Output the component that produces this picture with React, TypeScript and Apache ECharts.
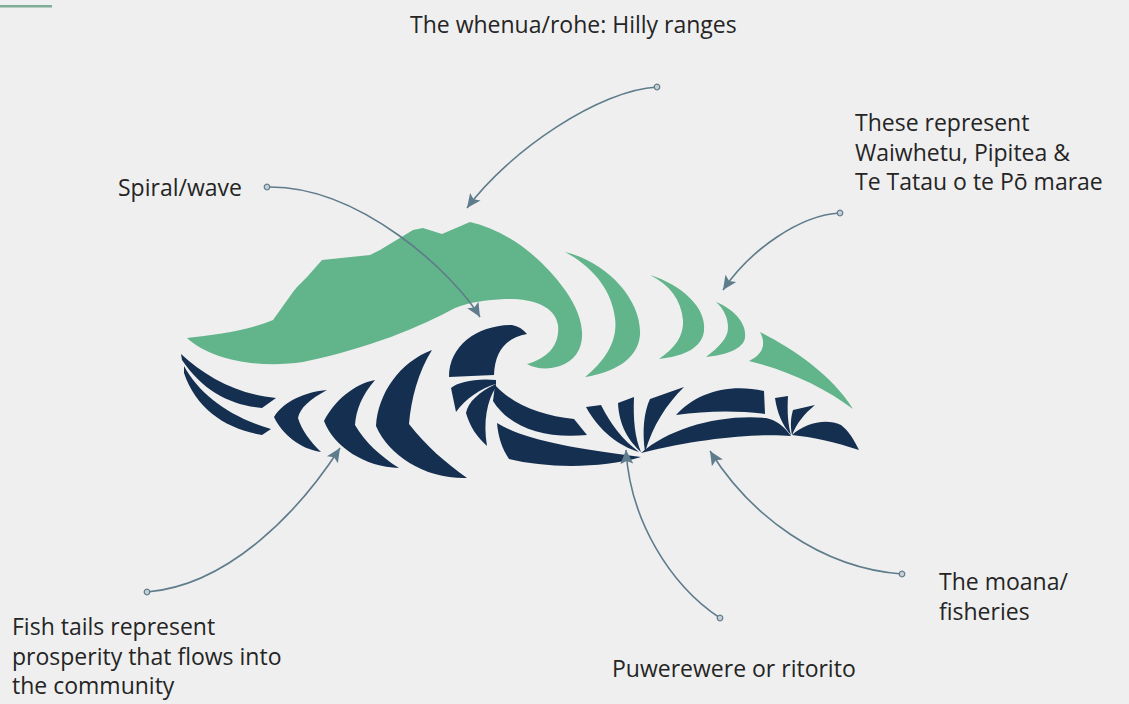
import React, { useEffect, useRef } from "react";
import * as echarts from "echarts";

// ---- text content ----
const labelTexts: string[][] = [
  ["The whenua/rohe: Hilly ranges"],
  ["Spiral/wave"],
  ["These represent", "Waiwhetu, Pipitea &", "Te Tatau o te Pō marae"],
  ["The moana/", "fisheries"],
  ["Puwerewere or ritorito"],
  ["Fish tails represent", "prosperity that flows into", "the community"],
];

// ---- layout (positions of label blocks) ----
const labelLayout = [
  { x: 410, y: 24, step: 29.5 },
  { x: 118, y: 187, step: 29.5 },
  { x: 855, y: 122, step: 29.5 },
  { x: 939, y: 581, step: 29.5 },
  { x: 612, y: 668, step: 29.5 },
  { x: 12, y: 626, step: 29.5 },
];

// arrows: [startDot, cp1, cp2, tip]
const arrows: number[][][] = [
  [[657, 87], [600, 90], [510, 150], [467, 208]],
  [[267, 187], [360, 185], [455, 275], [480, 317]],
  [[840, 213], [800, 215], [750, 250], [723, 290]],
  [[147, 592], [230, 585], [300, 510], [340, 448]],
  [[720, 618], [670, 585], [630, 520], [626, 450]],
  [[902, 574], [820, 568], [750, 515], [710, 451]],
];

// ---- illustration shapes ----
const greenPaths: string[] = [
  "M187,338 C215,335 250,330 273,320 L293,292 L297,287 L307,277 L322,260 L370,255 L380,250 L413,230 L423,228 L442,234 L470,222 C505,230 540,255 565,290 C590,325 587,357 560,366 C548,370 536,369 527,364 C548,358 560,345 558,325 C555,305 530,298 505,299 C485,300 470,302 455,308 C420,327 370,348 303,362 C263,368 213,362 187,338 Z",
  "M565,252 C607,262 642,300 640,335 C638,360 612,373 585,377 C606,360 618,340 615,318 C612,292 595,268 565,252 Z",
  "M650,275 C682,285 707,308 704,331 C702,347 686,356 659,359 C675,348 684,336 683,320 C681,300 670,285 650,275 Z",
  "M716,302 C736,310 747,325 745,338 C743,349 726,355 706,357 C719,347 728,338 728,328 C728,318 724,309 716,302 Z",
  "M760,332 C792,348 832,375 853,409 C825,388 790,371 749,361 C762,355 767,345 760,332 Z",
];

const navyPaths: string[] = [
  "M181,354 C205,377 240,395 276,398 L262,408 C230,405 203,391 182,360 Z",
  "M184,366 C200,395 230,417 271,429 L262,435 C226,429 196,409 184,373 Z",
  "M274,417 C284,401 305,392 327,390 C310,399 300,408 298,418 C302,431 310,441 321,452 C300,449 282,434 274,417 Z",
  "M324,421 C334,401 354,384 375,380 C362,395 356,410 355,425 C365,442 380,456 399,468 C365,467 334,447 324,421 Z",
  "M376,426 C378,393 400,362 432,350 C418,372 411,400 409,424 C426,446 446,463 467,478 C425,479 389,456 376,426 Z",
  "M449,377 C449,345 478,325 512,325 C518,326 523,329 527,334 C506,338 495,351 494,375 Z",
  "M496,380 C476,378 458,382 451,388 L456,412 C465,399 481,388 496,384 Z",
  "M496,384 C479,392 468,402 466,413 C470,427 477,437 487,446 C483,421 487,401 496,387 Z",
  "M495,385 C512,404 542,416 574,419 L587,435 C545,439 510,428 493,401 Z",
  "M497,423 C525,440 570,448 641,457 C600,469 545,468 509,459 C502,449 498,436 497,423 Z",
  "M586,407 L601,405 C611,425 623,440 639,452 C619,446 599,431 586,407 Z",
  "M618,403 L634,397 C633,420 635,438 641,452 C629,441 619,426 618,403 Z",
  "M650,399 L684,387 C666,405 653,425 645,452 C642,430 644,412 650,399 Z",
  "M676,415 C696,393 728,383 764,391 L765,414 C735,410 705,411 676,415 Z",
  "M641,453 C670,428 720,414 766,418 C776,420 784,426 791,436 C760,433 700,438 641,453 Z",
  "M775,398 L788,396 C787,412 788,425 791,435 C782,425 777,412 775,398 Z",
  "M793,410 L815,405 C804,414 797,423 792,435 C790,425 791,417 793,410 Z",
  "M792,435 C805,423 826,418 841,425 C849,431 854,440 859,450 C835,442 812,437 792,435 Z",
];

const GREEN = "#62b48b";
const NAVY = "#152f50";
const ARROW = "#5f7c8c";
const TEXT = "#252525";
const FONT = '23px "Open Sans", sans-serif';

let registered = false;
function registerShapes() {
  if (registered) return;
  greenPaths.forEach((d, i) => {
    echarts.graphic.registerShape("logoG" + i, echarts.graphic.extendPath(d, {}));
  });
  navyPaths.forEach((d, i) => {
    echarts.graphic.registerShape("logoN" + i, echarts.graphic.extendPath(d, {}));
  });
  registered = true;
}

function buildElements() {
  const els: any[] = [];
  // top-left accent line
  els.push({ type: "rect", shape: { x: 0, y: 5, width: 52, height: 2.5 }, style: { fill: "#7fae96" } });

  greenPaths.forEach((_, i) => {
    els.push({ type: "logoG" + i, x: 0, y: 0, style: { fill: GREEN } });
  });
  navyPaths.forEach((_, i) => {
    els.push({ type: "logoN" + i, x: 0, y: 0, style: { fill: NAVY } });
  });

  arrows.forEach((a) => {
    const [p0, c1, c2, p3] = a;
    els.push({
      type: "bezierCurve",
      shape: { x1: p0[0], y1: p0[1], cpx1: c1[0], cpy1: c1[1], cpx2: c2[0], cpy2: c2[1], x2: p3[0], y2: p3[1] },
      style: { stroke: ARROW, lineWidth: 1.6, fill: "none" },
    });
    const dx = p3[0] - c2[0];
    const dy = p3[1] - c2[1];
    const len = Math.sqrt(dx * dx + dy * dy) || 1;
    const ux = dx / len;
    const uy = dy / len;
    const L = 14;
    const W = 6.5;
    const bx = p3[0] - ux * L;
    const by = p3[1] - uy * L;
    els.push({
      type: "polygon",
      shape: {
        points: [
          [p3[0], p3[1]],
          [bx - uy * W, by + ux * W],
          [bx + ux * 3, by + uy * 3],
          [bx + uy * W, by - ux * W],
        ],
      },
      style: { fill: ARROW },
    });
    els.push({
      type: "circle",
      shape: { cx: p0[0], cy: p0[1], r: 2.8 },
      style: { fill: "#c5ced3", stroke: ARROW, lineWidth: 1.2 },
    });
  });

  labelTexts.forEach((lines, i) => {
    const pos = labelLayout[i];
    lines.forEach((t, j) => {
      els.push({
        type: "text",
        x: pos.x,
        y: pos.y + j * pos.step,
        style: { text: t, fill: TEXT, font: FONT, align: "left", verticalAlign: "middle" },
      });
    });
  });
  return els;
}

export default function App() {
  const ref = useRef<HTMLDivElement>(null);
  useEffect(() => {
    if (!ref.current) return;
    registerShapes();
    const chart = echarts.init(ref.current, undefined, { renderer: "svg" });
    chart.setOption({
      animation: false,
      backgroundColor: "#efefef",
      graphic: { elements: buildElements() },
    });
    return () => chart.dispose();
  }, []);
  return (
    <div
      ref={ref}
      style={{ position: "fixed", left: 0, top: 0, width: 1129, height: 704, background: "#efefef" }}
    />
  );
}
